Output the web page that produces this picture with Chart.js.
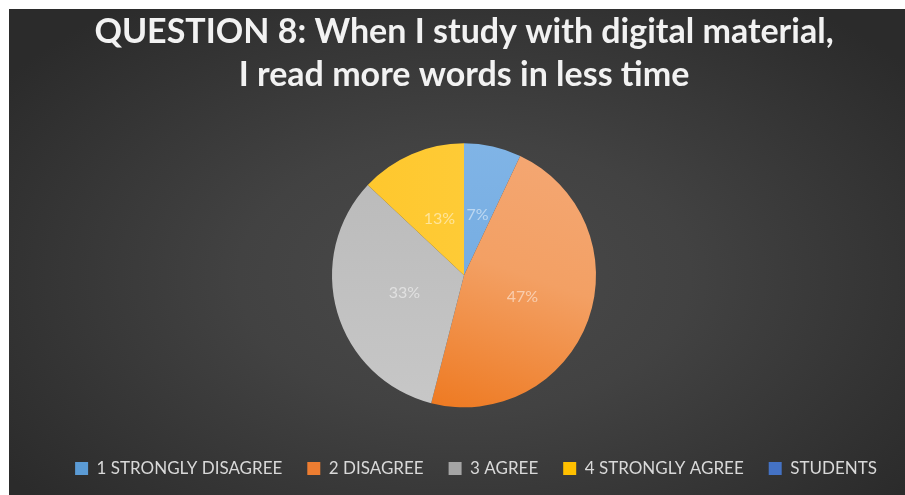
<!DOCTYPE html>
<html>
<head>
<meta charset="utf-8">
<script src="https://cdn.jsdelivr.net/npm/chart.js@4.4.1/dist/chart.umd.min.js"></script>
<style>
  html, body { margin: 0; padding: 0; background: #ffffff; overflow: hidden; }
  #panel {
    position: absolute; left: 9px; top: 9px; width: 910px; height: 486px;
    background: radial-gradient(ellipse 62% 70% at 50% 55%, #4a4a4a 0%, #424242 40%, #2b2b2b 100%);
  }
</style>
</head>
<body>
<div id="panel"><canvas id="myChart"></canvas></div>
<script>
// Survey answers, shown as percent of students
var categories = ['1 STRONGLY DISAGREE', '2 DISAGREE', '3 AGREE', '4 STRONGLY AGREE', 'STUDENTS'];
var percentValues = [7, 47, 33, 13, 0];
var titleLines = ['QUESTION 8: When I study with digital material,', 'I read more words in less time'];

var legendColors = ['#5b9bd5', '#ed7d31', '#a5a5a5', '#ffc000', '#4472c4'];
var pieRadius = 132;

// Slice fills with a soft gradient, like the office theme
function sliceFill(context) {
    var chart = context.chart;
    var area = chart.chartArea;
    var i = context.dataIndex;
    if (!area) return legendColors[i];
    var cx = (area.left + area.right) / 2;
    var cy = (area.top + area.bottom) / 2;
    var g;
    if (i === 0) {
        g = chart.ctx.createLinearGradient(cx, cy - pieRadius, cx, cy);
        g.addColorStop(0, '#80b4e6');
        g.addColorStop(1, '#76ade2');
        return g;
    }
    if (i === 1) {
        g = chart.ctx.createLinearGradient(cx + pieRadius * 0.5, cy - pieRadius, cx - pieRadius * 0.2, cy + pieRadius);
        g.addColorStop(0, '#f4a773');
        g.addColorStop(0.45, '#f3a064');
        g.addColorStop(1, '#ee7a22');
        return g;
    }
    if (i === 2) {
        g = chart.ctx.createLinearGradient(cx, cy - pieRadius, cx, cy + pieRadius);
        g.addColorStop(0, '#b9b9b9');
        g.addColorStop(1, '#c7c7c7');
        return g;
    }
    if (i === 3) {
        g = chart.ctx.createLinearGradient(cx - pieRadius, cy, cx, cy);
        g.addColorStop(0, '#ffc62a');
        g.addColorStop(1, '#fecb36');
        return g;
    }
    return legendColors[i];
}

// Percent labels inside each slice
var sliceLabels = {
    id: 'sliceLabels',
    afterDatasetsDraw: function(chart) {
        var ctx = chart.ctx;
        var meta = chart.getDatasetMeta(0);
        ctx.save();
        ctx.font = '16px Lato';
        ctx.fillStyle = 'rgba(255,255,255,0.5)';
        ctx.textAlign = 'center';
        ctx.textBaseline = 'middle';
        meta.data.forEach(function(arc, i) {
            var v = percentValues[i];
            if (!v) return;
            var p = arc.getProps(['x', 'y', 'startAngle', 'endAngle', 'outerRadius'], true);
            var mid = (p.startAngle + p.endAngle) / 2;
            var r = p.outerRadius * 0.47;
            ctx.fillText(v + '%', p.x + Math.cos(mid) * r, p.y + Math.sin(mid) * r);
        });
        ctx.restore();
    }
};

// Legend row sits a bit right of the pie centre
var legendNudge = {
    id: 'legendNudge',
    afterLayout: function(chart) {
        chart.legend.left += 12;
        chart.legend.right += 12;
    }
};

var ctx = document.getElementById('myChart');
var myChart = new Chart(ctx, {
    type: 'pie',
    data: {
        labels: categories,
        datasets: [{
            data: percentValues,
            backgroundColor: sliceFill,
            borderWidth: 0,
            radius: pieRadius
        }]
    },
    options: {
        responsive: true,
        maintainAspectRatio: false,
        animation: false,
        events: [],
        layout: { padding: { bottom: 8 } },
        plugins: {
            title: {
                display: true,
                text: titleLines,
                color: '#f2f2f2',
                font: { family: 'Lato', size: 34, weight: 'bold', lineHeight: 1.26 },
                padding: { top: 2, bottom: 19 }
            },
            legend: {
                position: 'bottom',
                labels: {
                    color: '#d9d9d9',
                    font: { family: 'Lato', size: 17 },
                    boxWidth: 13,
                    boxHeight: 13,
                    padding: 25,
                    generateLabels: function(chart) {
                        return categories.map(function(name, i) {
                            return {
                                text: name,
                                fillStyle: legendColors[i],
                                strokeStyle: legendColors[i],
                                lineWidth: 0,
                                fontColor: '#d9d9d9',
                                hidden: false,
                                index: i
                            };
                        });
                    }
                }
            },
            tooltip: { enabled: false }
        }
    },
    plugins: [sliceLabels, legendNudge]
});
</script>
</body>
</html>
